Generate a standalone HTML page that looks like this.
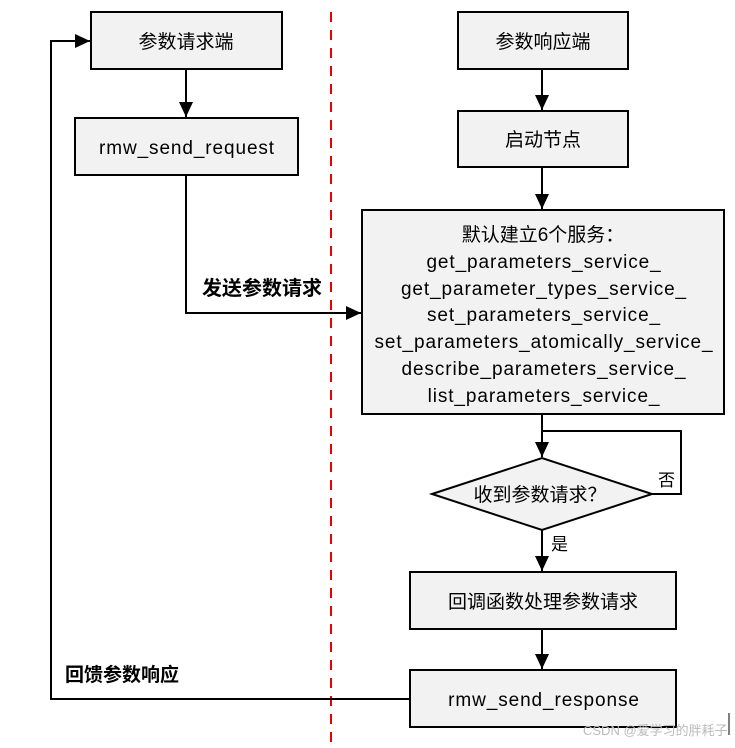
<!DOCTYPE html>
<html><head><meta charset="utf-8"><style>
body{margin:0;background:#fff;}
svg text{font-family:"Liberation Sans","Noto Sans CJK SC",sans-serif;fill:#000;}
.l{letter-spacing:0.9px}
</style></head><body>
<svg width="735" height="743" viewBox="0 0 735 743" xmlns="http://www.w3.org/2000/svg">
<defs>
<marker id="b" markerWidth="16" markerHeight="14" refX="15" refY="7" orient="auto" markerUnits="userSpaceOnUse"><path d="M0,0 L15,7 L0,14 z" fill="#000"/></marker></defs>
<line x1="331" y1="12" x2="331" y2="743" stroke="#e00" stroke-width="2" stroke-dasharray="10,8"/>
<g stroke="#000" stroke-width="2" fill="#f2f2f2">
<rect x="91" y="12" width="191" height="57"/>
<rect x="75" y="118" width="223" height="57"/>
<rect x="458" y="12" width="170" height="57"/>
<rect x="458" y="111" width="170" height="56"/>
<rect x="362" y="210" width="362" height="204"/>
<polygon points="432,494 542,458 652,494 542,530"/>
<rect x="410" y="572" width="266" height="57"/>
<rect x="410" y="670" width="266" height="57"/>
</g>
<g stroke="#000" stroke-width="2" fill="none">
<line x1="186" y1="69" x2="186" y2="117" marker-end="url(#b)"/>
<polyline points="186,175 186,313 361,313" marker-end="url(#b)"/>
<polyline points="410,699 51,699 51,41 90,41" marker-end="url(#b)"/>
<line x1="542" y1="69" x2="542" y2="110" marker-end="url(#b)"/>
<line x1="542" y1="167" x2="542" y2="209" marker-end="url(#b)"/>
<line x1="542" y1="414" x2="542" y2="457" marker-end="url(#b)"/>
<polyline points="542,431 681,431 681,494 652,494"/>
<line x1="542" y1="530" x2="542" y2="571" marker-end="url(#b)"/>
<line x1="542" y1="629" x2="542" y2="669" marker-end="url(#b)"/>
</g>
<g font-size="19" text-anchor="middle">
<text x="186" y="48">参数请求端</text>
<text x="187" y="154" class="l">rmw_send_request</text>
<text x="543" y="48">参数响应端</text>
<text x="543" y="146">启动节点</text>
<text x="543" y="241">默认建立6个服务：</text>
<text x="544" y="268" class="l">get_parameters_service_</text>
<text x="544" y="295" class="l">get_parameter_types_service_</text>
<text x="544" y="321" class="l">set_parameters_service_</text>
<text x="544" y="348" class="l">set_parameters_atomically_service_</text>
<text x="544" y="375" class="l">describe_parameters_service_</text>
<text x="544" y="402" class="l">list_parameters_service_</text>
<text x="540" y="501">收到参数请求？</text>
<text x="543" y="608">回调函数处理参数请求</text>
<text x="544" y="706" class="l">rmw_send_response</text>
</g>
<text x="202" y="295" font-size="20" font-weight="bold">发送参数请求</text>
<text x="65" y="681" font-size="19" font-weight="bold">回馈参数响应</text>
<text x="658" y="486" font-size="17" fill="#502020">否</text>
<text x="551" y="550" font-size="17" fill="#502020">是</text>
<text x="583" y="735" font-size="13" style="fill:#bbb">CSDN @爱学习的胖耗子</text>
<line x1="729" y1="713" x2="729" y2="735" stroke="#000" stroke-width="1"/>
</svg>
</body></html>
